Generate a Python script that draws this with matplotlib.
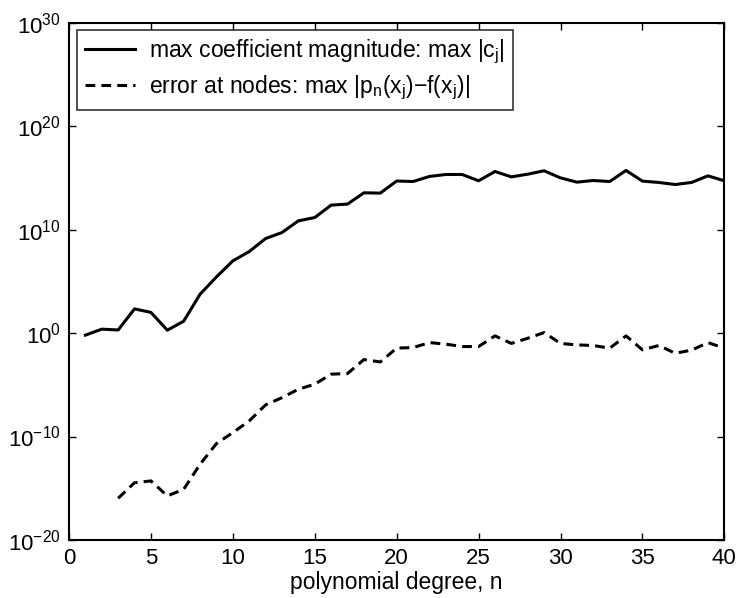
import numpy as np
import matplotlib
matplotlib.use("Agg")
import matplotlib.pyplot as plt

plt.rcParams['font.family'] = ['Liberation Sans', 'DejaVu Sans']
plt.rcParams['mathtext.fontset'] = 'custom'
plt.rcParams['mathtext.rm'] = 'Liberation Sans'
plt.rcParams['mathtext.it'] = 'Liberation Sans'

# data (log10 exponents)
n_coef = list(range(1, 41))
log_coef = [-0.2, 0.38, 0.3, 2.34, 2.0, 0.28, 1.15, 3.76, 5.43, 6.98,
            7.88, 9.14, 9.72, 10.85, 11.17, 12.37, 12.47, 13.56, 13.53, 14.7,
            14.65, 15.14, 15.33, 15.33, 14.72, 15.62, 15.1, 15.36, 15.69, 15.0,
            14.59, 14.75, 14.65, 15.72, 14.69, 14.56, 14.36, 14.56, 15.2, 14.72]
n_err = list(range(3, 41))
log_err = [-15.97, -14.46, -14.29, -15.74, -15.1, -12.68, -10.68, -9.62,
           -8.49, -6.94, -6.24, -5.43, -4.94, -3.97, -3.91, -2.56, -2.79, -1.45,
           -1.4, -0.92, -1.07, -1.3, -1.3, -0.27, -1.0, -0.5, 0.05, -1.0,
           -1.14, -1.2, -1.46, -0.27, -1.62, -1.2, -1.95, -1.65, -0.92, -1.46]
xticks = [0, 5, 10, 15, 20, 25, 30, 35, 40]
yticks_exp = [-20, -10, 0, 10, 20, 30]
label_coef = r"max coefficient magnitude: max $|\mathregular{c_j}|$"
label_err = r"error at nodes: max $|\mathregular{p_n(x_j)}$$\mathregular{-f(x_j)}|$"

fig = plt.figure(figsize=(7.38, 5.98), dpi=100)
ax = fig.add_axes([0.0935, 0.097, 0.888, 0.865])

ax.semilogy(n_coef, 10.0 ** np.array(log_coef), color='black', lw=2.2,
            label=label_coef)
ax.semilogy(n_err, 10.0 ** np.array(log_err), color='black', lw=2.2,
            dashes=(3.2, 2.0), label=label_err)

ax.set_xlim(0, 40)
ax.set_ylim(1e-20, 1e30)
ax.set_xticks(xticks)
ax.set_yticks([10.0 ** e for e in yticks_exp])
ax.set_yticklabels([r"$\mathregular{10^{%d}}$" % e if e >= 0 else
                    r"$\mathregular{10^{-%d}}$" % (-e) for e in yticks_exp])
ax.minorticks_off()
ax.yaxis.set_minor_locator(matplotlib.ticker.NullLocator())
ax.tick_params(direction='in', length=5, width=1, top=True, right=True,
               labelsize=16, pad=6)
for s in ax.spines.values():
    s.set_linewidth(1.5)
ax.set_xlabel("polynomial degree, n", fontsize=16.5, labelpad=1)

leg = ax.legend(loc='upper left', bbox_to_anchor=(0.012, 0.986), fontsize=16.5,
                frameon=True, fancybox=False, edgecolor='black',
                handlelength=2.2, handletextpad=0.6, borderaxespad=0,
                labelspacing=0.3, borderpad=0.35)
leg.get_frame().set_linewidth(1.2)

fig.savefig("out.png", dpi=100)
